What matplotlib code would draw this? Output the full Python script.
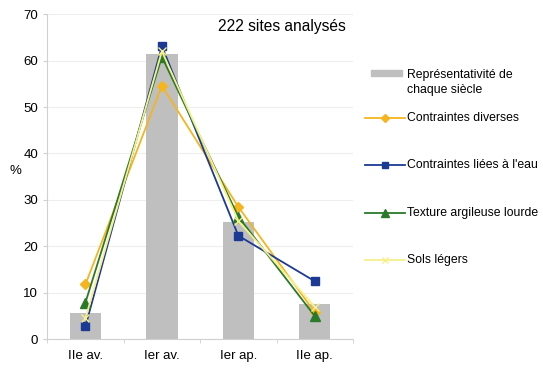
import matplotlib
matplotlib.use('Agg')
import matplotlib.pyplot as plt
from matplotlib.lines import Line2D
from matplotlib.patches import Rectangle
import numpy as np

plt.rcParams['font.family'] = ['Liberation Sans', 'DejaVu Sans']

categories = ['IIe av.', 'Ier av.', 'Ier ap.', 'IIe ap.']
representativite = [5.7, 61.5, 25.2, 7.5]
contraintes_diverses = [11.8, 54.6, 28.5, 5.8]
contraintes_eau = [2.8, 63.1, 22.3, 12.5]
texture_argileuse = [7.9, 60.8, 26.4, 5.0]
sols_legers = [4.5, 62.0, 25.5, 7.0]

W, H = 543, 372
fig = plt.figure(figsize=(W / 100, H / 100), dpi=100)
ax = fig.add_axes([0.087, 0.088, 0.563, 0.874])

bar_label = 'Représentativité de\nchaque siècle'
series = [
    ('Contraintes diverses', contraintes_diverses, '#f5b520', 'D', 5),
    ("Contraintes liées à l'eau", contraintes_eau, '#1c3a94', 's', 6),
    ('Texture argileuse lourde', texture_argileuse, '#2a7a2a', '^', 7),
    ('Sols légers', sols_legers, '#f7f08a', 'x', 6),
]

x = np.arange(len(categories))
ax.bar(x, representativite, width=0.41, color='#bfbfbf', zorder=2)
for i, (name, vals, col, mk, ms) in enumerate(series):
    ax.plot(x, vals, color=col, marker=mk, markersize=ms, lw=1.3, zorder=3 + (i >= 2))

ax.set_xlim(-0.5, 3.5)
ax.set_ylim(0, 70)
ax.set_yticks(range(0, 71, 10))
ax.set_xticks(x)
ax.set_xticklabels(categories)
ax.set_xticks(np.arange(-0.5, 4, 1), minor=True)
ax.tick_params(axis='x', which='major', length=0, labelsize=9.5, pad=8)
ax.tick_params(axis='x', which='minor', length=3, color='#d0d0d0')
ax.tick_params(axis='y', length=3, color='#d0d0d0', labelsize=9.5)
ax.grid(axis='y', color='#eeeeee', lw=0.8, zorder=0)
for side in ['top', 'right']:
    ax.spines[side].set_visible(False)
for side in ['left', 'bottom']:
    ax.spines[side].set_color('#d0d0d0')

ax.set_ylabel('%', rotation=0, fontsize=9.5, labelpad=6)
ax.text(0.975, 0.985, '222 sites analysés', transform=ax.transAxes,
        ha='right', va='top', fontsize=11.2)

# legend drawn by hand (pixel positions from the top-left corner)
def fx(px):
    return px / W

def fy(py):
    return 1 - py / H

leg_fs = 8.8
fig.add_artist(Rectangle((fx(371), fy(76)), fx(402) - fx(371), 6 / H,
                         transform=fig.transFigure, color='#bfbfbf'))
fig.text(fx(407), fy(69), bar_label, fontsize=leg_fs, va='top',
         linespacing=1.3)
for (name, vals, col, mk, ms), py in zip(series, [118, 165, 213, 260]):
    fig.add_artist(Line2D([fx(365), fx(385), fx(405)], [fy(py)] * 3,
                          transform=fig.transFigure, color=col, lw=1.3,
                          marker=mk, markersize=ms - 1, markevery=[1]))
    fig.text(fx(407), fy(py), name, fontsize=leg_fs, va='center')

fig.savefig('out.png', dpi=100)
